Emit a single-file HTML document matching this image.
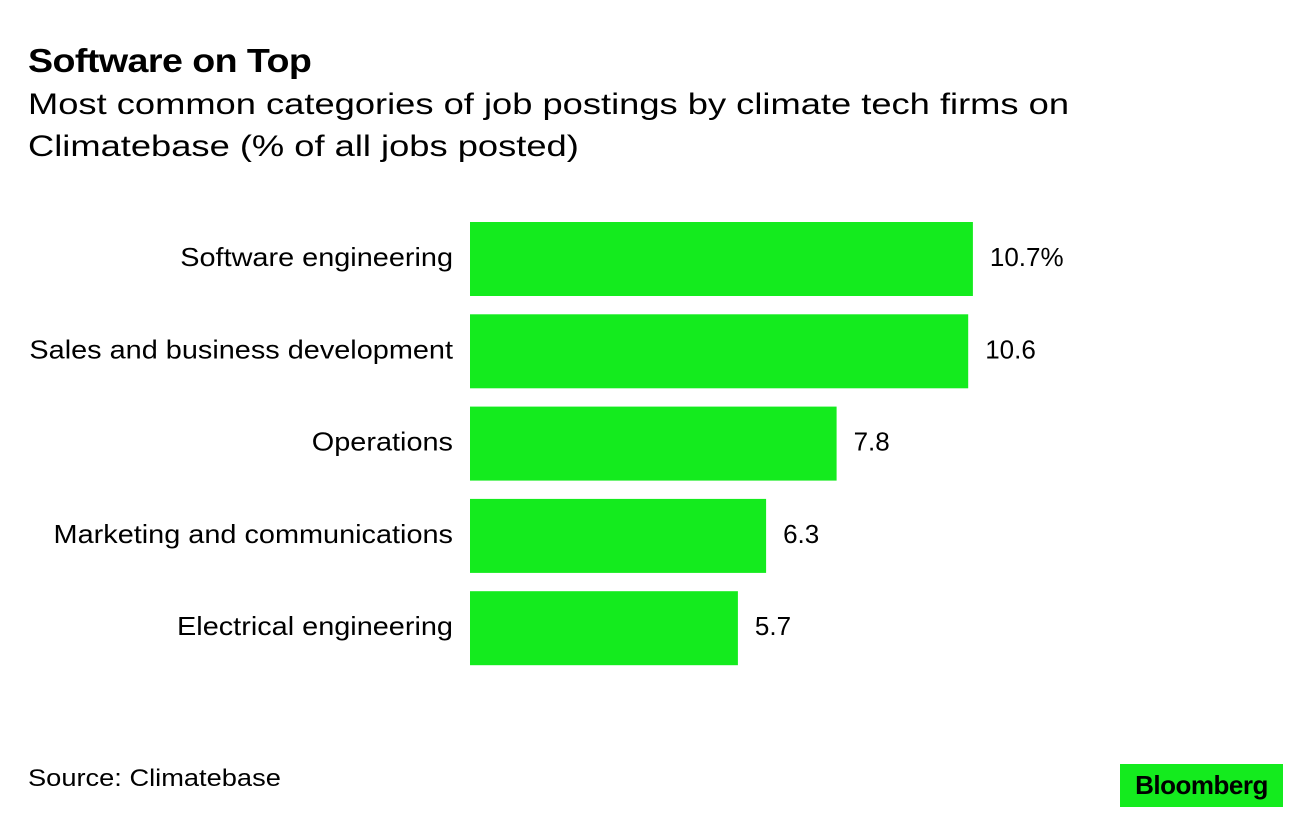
<!DOCTYPE html>
<html><head><meta charset="utf-8"><style>
body{margin:0;width:1296px;height:820px;background:#fff;font-family:"Liberation Sans",sans-serif;color:#000;position:relative;overflow:hidden}
.t{position:absolute;white-space:nowrap;transform-origin:0 0}
</style></head><body>
<div class="t" style="left:28px;top:42px;font-size:33px;font-weight:bold;letter-spacing:-0.5px;transform:scaleX(1.14)">Software on Top</div>
<div class="t" style="left:28px;top:84px;font-size:30px;line-height:42px;transform:scaleX(1.21)">Most common categories of job postings by climate tech firms on<br>Climatebase (% of all jobs posted)</div>
<svg id="chart" width="1296" height="820" style="position:absolute;left:0;top:0"></svg>
<div class="t" style="left:28px;top:765px;font-size:24px;transform:scaleX(1.135)">Source: Climatebase</div>
<div class="t" style="left:1120px;top:764px;width:163px;height:43px;background:#14eb1e;font-size:26px;font-weight:bold;line-height:43px;text-align:center;letter-spacing:-0.5px">Bloomberg</div>
<script>
const categories=["Software engineering","Sales and business development","Operations","Marketing and communications","Electrical engineering"];
const values=[10.7,10.6,7.8,6.3,5.7];
const valueLabels=["10.7%","10.6","7.8","6.3","5.7"];
const svg=document.getElementById('chart');
const NS='http://www.w3.org/2000/svg';
const x0=470,pxPer=47.0;
const xs=v=>x0+v*pxPer;
const ys=i=>222+i*92.3;
const bh=74;
categories.forEach((c,i)=>{
 const r=document.createElementNS(NS,'rect');
 
 
 r.setAttribute('x',x0);r.setAttribute('y',ys(i));
 r.setAttribute('width',xs(values[i])-x0);r.setAttribute('height',bh);
 r.setAttribute('fill','#14eb1e');svg.appendChild(r);
 const l=document.createElementNS(NS,'text');
 
 
 l.setAttribute('x',453);l.setAttribute('y',ys(i)+bh/2+7);
 l.setAttribute('text-anchor','end');l.setAttribute('font-size','26');
 l.setAttribute('font-family','Liberation Sans, sans-serif');
 l.textContent=c;svg.appendChild(l);
 const w=l.getComputedTextLength();
 l.setAttribute('textLength',w*1.11);
 l.setAttribute('lengthAdjust','spacingAndGlyphs');
 const v=document.createElementNS(NS,'text');
 
 
 v.setAttribute('x',xs(values[i])+17);v.setAttribute('y',ys(i)+bh/2+7);
 v.setAttribute('font-size','26');
 v.setAttribute('font-family','Liberation Sans, sans-serif');
 v.textContent=valueLabels[i];svg.appendChild(v);
});
</script>
</body></html>
